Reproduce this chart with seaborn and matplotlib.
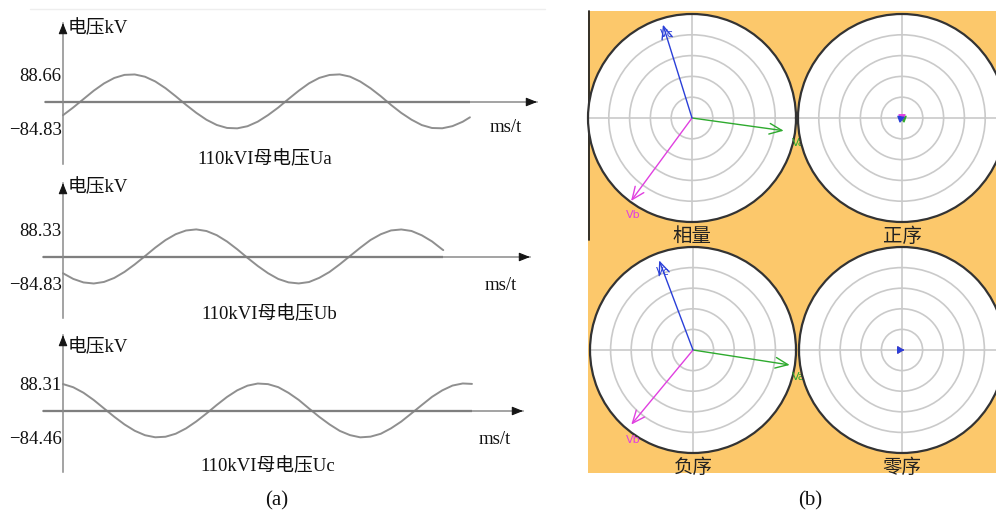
import numpy as np
import pandas as pd
import matplotlib
matplotlib.use('Agg')
import matplotlib.pyplot as plt
import seaborn as sns
from matplotlib.patches import Rectangle
from matplotlib.lines import Line2D

# ---------------- data ----------------
t_a = list(range(0, 40)) + [39.7]          # ms
u_a = [-42.3, -17.5, 9.4, 36.2, 59.4, 76.9, 86.8, 88.1, 80.9, 65.8,
       44.2, 18.3, -9.0, -34.6, -56.9, -73.5, -83.0, -84.3, -77.5, -62.9,
       -42.0, -17.8, 9.6, 36.0, 59.7, 77.1, 86.5, 88.3, 81.2, 65.5,
       44.0, 18.6, -9.3, -34.9, -56.6, -73.8, -83.2, -84.1, -77.2, -63.1, -49.0]
t_b = list(range(0, 38)) + [37.1]
u_b = [-52.0, -70.1, -81.4, -84.8, -79.8, -67.0, -47.7, -23.7, 2.8, 29.9,
       54.1, 73.0, 84.8, 88.3, 83.1, 69.8, 49.6, 24.6, -2.7, -28.7,
       -51.8, -70.3, -81.2, -84.6, -80.1, -66.7, -47.9, -23.4, 3.1, 29.6,
       54.4, 72.8, 85.0, 88.1, 83.3, 69.5, 49.9, 24.3, 22.0]
t_c = list(range(0, 40)) + [39.9]
u_c = [86.2, 76.0, 58.4, 35.1, 8.3, -18.4, -43.0, -63.3, -77.5, -84.1,
       -82.4, -72.7, -55.8, -33.5, -7.9, 19.3, 44.9, 66.2, 81.1, 87.9,
       86.0, 76.3, 58.1, 35.4, 8.0, -18.7, -42.8, -63.6, -77.2, -84.3,
       -82.1, -72.9, -55.5, -33.8, -7.6, 19.0, 45.2, 66.0, 81.4, 88.1, 86.7]

ticks_a = [88.66, -84.83]
ticks_b = [88.33, -84.83]
ticks_c = [88.31, -84.46]
ticklabels_a = ["88.66", "\u221284.83"]
ticklabels_b = ["88.33", "\u221284.83"]
ticklabels_c = ["88.31", "\u221284.46"]
captions = ["110kVI母电压Ua", "110kVI母电压Ub", "110kVI母电压Uc"]
ylabel_txt = "电压kV"
xlabel_txt = "ms/t"

phasor_names = ["Va", "Vb", "Vc"]
phasor_colors = ["#2eaa2e", "#e040e0", "#2a3fd8"]
xl_ang = [-7.9, 233.7, 107.3]      # 相量
xl_mag = [0.89, 0.99, 0.94]
zx_ang = [160.0, 270.0, 20.0]      # 正序 (tiny)
zx_mag = [0.03, 0.03, 0.03]
fx_ang = [-8.8, 230.4, 110.7]      # 负序
fx_mag = [0.95, 0.94, 0.93]
lx_ang = [0.0, 0.0, 0.0]           # 零序 (tiny)
lx_mag = [0.02, 0.02, 0.02]
panel_titles = ["相量", "正序", "负序", "零序"]

# ---------------- figure ----------------
sns.set_theme(style="white")
plt.rcParams['font.family'] = ['Liberation Serif', 'Noto Sans CJK SC', 'DejaVu Sans']
plt.rcParams['axes.unicode_minus'] = True

W, H = 996, 512
fig = plt.figure(figsize=(W / 100, H / 100), dpi=100)
fig.patch.set_facecolor('white')

def fxp(px):
    return px / W

def fyp(py):
    return 1 - py / H

PX_PER_MS = 10.25
X0 = 63          # pixel x of t = 0
KV_PER_PX = 3.2

layout = [
    dict(zero=102, tip=23, bot=164, xs=45, xe=537, ty=28, msx=490, msy=128, cx=265, cy=159),
    dict(zero=257, tip=183, bot=318, xs=43, xe=530, ty=187, msx=485, msy=285, cx=269, cy=314),
    dict(zero=411, tip=335, bot=472, xs=43, xe=523, ty=347, msx=479, msy=440, cx=268, cy=466),
]
series = [(t_a, u_a, ticks_a, ticklabels_a), (t_b, u_b, ticks_b, ticklabels_b),
          (t_c, u_c, ticks_c, ticklabels_c)]

# faint top rule
fig.add_artist(Line2D([fxp(30), fxp(545)], [fyp(9), fyp(9)], color='#eeeeee', lw=1))

for L, (tt, uu, tk, tkl), cap in zip(layout, series, captions):
    left_px, right_px = 20, 550
    top_px, bot_px = L['tip'] - 6, L['bot'] + 2
    ax = fig.add_axes([fxp(left_px), fyp(bot_px), (right_px - left_px) / W, (bot_px - top_px) / H])
    ax.patch.set_alpha(0)
    t_of = lambda px: (px - X0) / PX_PER_MS
    v_of = lambda py, z=L['zero']: (z - py) * KV_PER_PX
    ax.set_xlim(t_of(left_px), t_of(right_px))
    ax.set_ylim(v_of(bot_px), v_of(top_px))

    df = pd.DataFrame({'t': tt, 'u': uu})
    sns.lineplot(data=df, x='t', y='u', ax=ax, color='#8f8f8f', linewidth=1.4)
    # dark zero line of the waveform window
    ax.plot([t_of(L['xs']), tt[-1]], [0, 0], color='#5e5e5e', lw=1.6, solid_capstyle='butt')

    for s in ['top', 'right']:
        ax.spines[s].set_visible(False)
    ax.spines['left'].set_position(('data', 0))
    ax.spines['bottom'].set_position(('data', 0))
    ax.spines['left'].set_bounds(v_of(L['bot']), v_of(L['tip']))
    ax.spines['bottom'].set_bounds(t_of(L['xs']), t_of(L['xe']))
    for s in ['left', 'bottom']:
        ax.spines[s].set_color('#8a8a8a')
        ax.spines[s].set_linewidth(1.1)
    ax.set_xticks([])
    ax.set_yticks(tk)
    ax.set_yticklabels(tkl)
    ax.tick_params(axis='y', length=0, pad=1, labelsize=13.5, labelcolor='#111111')
    ax.set_xlabel('')
    ax.set_ylabel('')

    hp = dict(arrowstyle='-|>,head_length=0.55,head_width=0.22', color='#151515', lw=0.8,
              shrinkA=0, shrinkB=0)
    ax.annotate('', xy=(t_of(L['xe']), 0), xytext=(t_of(L['xe'] - 6), 0), arrowprops=hp,
                annotation_clip=False)
    ax.annotate('', xy=(0, v_of(L['tip'])), xytext=(0, v_of(L['tip'] + 6)), arrowprops=hp,
                annotation_clip=False)

    fig.text(fxp(68), fyp(L['ty']), ylabel_txt, fontsize=13.5, ha='left', va='center', color='#111111')
    fig.text(fxp(L['msx']), fyp(L['msy']), xlabel_txt, fontsize=13.5, ha='left', va='center', color='#111111')
    fig.text(fxp(L['cx']), fyp(L['cy']), cap, fontsize=13.5, ha='center', va='center', color='#111111')

fig.text(fxp(277), fyp(501), "(a)", fontsize=15, ha='center', va='center', color='#111111')
fig.text(fxp(810), fyp(501), "(b)", fontsize=15, ha='center', va='center', color='#111111')

# ---------------- panel (b) ----------------
fig.add_artist(Rectangle((fxp(588), fyp(473)), (W - 588) / W, (473 - 11) / H,
                         transform=fig.transFigure, facecolor='#fcc86b', edgecolor='none', zorder=-10))
fig.add_artist(Line2D([fxp(588.5), fxp(588.5)], [fyp(11), fyp(240)], color='#222222', lw=1.3, zorder=-9))

circles = [(692, 118, 104), (902, 118, 104), (693, 350, 103), (902, 350, 103)]
phasor_sets = [(xl_ang, xl_mag), (zx_ang, zx_mag), (fx_ang, fx_mag), (lx_ang, lx_mag)]
label_pos = [
    {"Va": (-13.4, 1.05), "Vb": (238.7, 1.09), "Vc": (106.8, 0.84)},
    None,
    {"Va": (-14.4, 1.06), "Vb": (236.2, 1.05), "Vc": (111.3, 0.81)},
    None,
]

for (cx, cy, R), (angs, mags), lp, title in zip(circles, phasor_sets, label_pos, panel_titles):
    ax = fig.add_axes([fxp(cx - R), fyp(cy + R), 2 * R / W, 2 * R / H], projection='polar')
    ax.set_facecolor('white')
    ax.set_ylim(0, 1)
    ax.set_yticks([0.2, 0.4, 0.6, 0.8])
    ax.set_yticklabels([])
    ax.set_xticks(np.deg2rad([0, 90, 180, 270]))
    ax.set_xticklabels([])
    ax.tick_params(length=0)
    ax.grid(True, color='#cacaca', lw=1.2)
    ax.spines['polar'].set_color('#333333')
    ax.spines['polar'].set_linewidth(1.6)
    tiny = max(mags) < 0.1
    for name, c, a, m in zip(phasor_names, phasor_colors, angs, mags):
        if tiny:
            style = '-|>,head_length=0.3,head_width=0.18'
        else:
            style = '->,head_length=0.75,head_width=0.32'
        ax.annotate('', xy=(np.deg2rad(a), m), xytext=(0, 0),
                    arrowprops=dict(arrowstyle=style, color=c, lw=1.0, shrinkA=0, shrinkB=0),
                    annotation_clip=False)
        if lp is not None:
            la, lr = lp[name]
            ax.text(np.deg2rad(la), lr, name, color=c, fontsize=8, ha='center', va='center',
                    family='DejaVu Sans', clip_on=False)
    fig.text(fxp(cx), fyp(cy + R + 14), title, fontsize=14, ha='center', va='center',
             color='#222222', family=['Noto Sans CJK SC'])

fig.savefig('out.png', dpi=100, facecolor='white')
